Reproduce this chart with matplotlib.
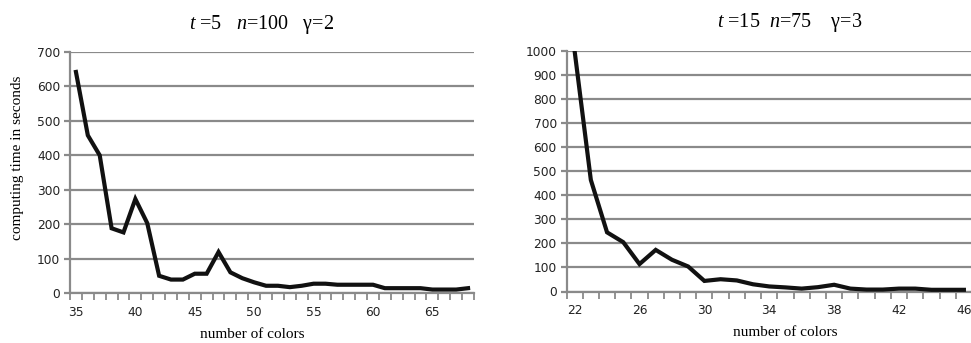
import matplotlib
matplotlib.use("Agg")
import matplotlib.pyplot as plt
import numpy as np

# ---- data ----
colors_a = list(range(35, 69))
time_a = [642, 458, 400, 188, 176, 273, 203, 50, 39, 39, 56, 56, 119, 60, 43, 31,
          21, 21, 17, 21, 27, 27, 24, 24, 24, 24, 14, 14, 14, 14, 10, 10, 10, 14]
colors_b = list(range(22, 47))
time_b = [1000, 464, 246, 205, 114, 173, 132, 104, 44, 51, 46, 30, 21, 17, 12, 18,
          28, 12, 8, 8, 12, 12, 7, 7, 7]
xticks_a = [35, 40, 45, 50, 55, 60, 65]
xticks_b = [22, 26, 30, 34, 38, 42, 46]
yticks_a = list(range(0, 701, 100))
yticks_b = list(range(0, 1001, 100))

plt.rcParams['mathtext.fontset'] = 'custom'
plt.rcParams['mathtext.rm'] = 'Liberation Serif'
plt.rcParams['mathtext.it'] = 'Liberation Serif:italic'

W, H = 971, 343
fig = plt.figure(figsize=(W / 100, H / 100), dpi=100)
GRID = '#8a8a8a'

def px(x, y):
    return x / W, 1 - y / H

def setup(ax, xs, ys, xticks, yticks, ymax):
    ax.plot(xs, ys, color='#111111', lw=3.0, solid_joinstyle='miter', clip_on=True)
    ax.set_xlim(xs[0] - 0.5, xs[-1] + 0.5)
    ax.set_ylim(0, ymax)
    ax.set_yticks(yticks)
    ax.set_xticks(xticks)
    ax.set_xticks(np.arange(xs[0] - 0.5, xs[-1] + 1.0, 1.0), minor=True)
    ax.grid(axis='y', color=GRID, lw=1.6)
    ax.set_axisbelow(True)
    for s in ['top', 'right', 'bottom']:
        ax.spines[s].set_visible(False)
    ax.spines['left'].set_color(GRID)
    ax.spines['left'].set_linewidth(1.6)
    ax.axhline(0, color=GRID, lw=1.6, zorder=1, clip_on=False)
    ax.tick_params(axis='x', which='major', length=0, pad=9, labelsize=8.8, labelcolor='#222222')
    ax.tick_params(axis='x', which='minor', length=5, width=1.3, color=GRID, direction='out')
    ax.tick_params(axis='y', length=4, width=1.6, color=GRID, pad=3, labelsize=8.8, labelcolor='#222222')
    for lab in ax.get_xticklabels() + ax.get_yticklabels():
        lab.set_family('DejaVu Sans')

# left panel
x0, y0 = px(70, 293)
x1, y1 = px(474, 52)
ax1 = fig.add_axes([x0, y0, x1 - x0, y1 - y0])
setup(ax1, colors_a, time_a, xticks_a, yticks_a, 700)

# right panel
x0, y0 = px(566.5, 291.5)
x1, y1 = px(972, 51)
ax2 = fig.add_axes([x0, y0, x1 - x0, y1 - y0])
setup(ax2, colors_b, time_b, xticks_b, yticks_b, 1000)

serif = 'Liberation Serif'
fig.text(*px(262, 24), r'$t$ =5   $n$=100   γ=2', ha='center', va='center',
         family=serif, fontsize=14.5)
fig.text(*px(790, 22), r'$t$ =15  $n$=75    γ=3', ha='center', va='center',
         family=serif, fontsize=14.5)
fig.text(*px(252, 335), 'number of colors', ha='center', va='center',
         family=serif, fontsize=11)
fig.text(*px(785, 333), 'number of colors', ha='center', va='center',
         family=serif, fontsize=11)
fig.text(*px(17, 158), 'computing time in seconds', ha='center', va='center',
         rotation=90, family=serif, fontsize=11)

fig.savefig('out.png', dpi=100)
